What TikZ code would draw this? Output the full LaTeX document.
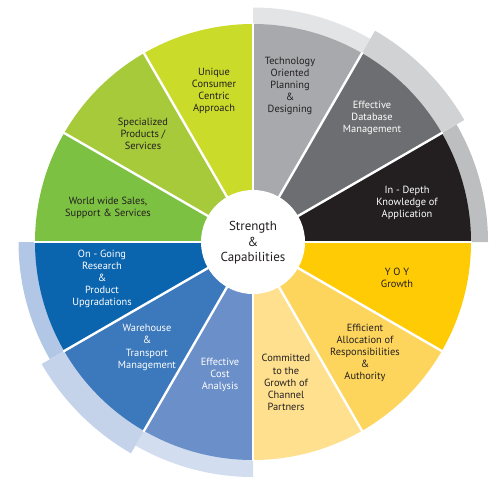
\documentclass[tikz,border=0pt]{standalone}
\usepackage{fontspec}
\setmainfont{PT Sans}
\definecolor{cTech}{HTML}{A7A9AC}
\definecolor{cData}{HTML}{6D6E71}
\definecolor{cDepth}{HTML}{231F20}
\definecolor{cYoy}{HTML}{FFCB05}
\definecolor{cEff}{HTML}{FED55C}
\definecolor{cComm}{HTML}{FFE08F}
\definecolor{cCost}{HTML}{6B8FC9}
\definecolor{cWare}{HTML}{3B78BC}
\definecolor{cOngo}{HTML}{0A64AE}
\definecolor{cWorld}{HTML}{7CC142}
\definecolor{cSpec}{HTML}{A6CA3A}
\definecolor{cUniq}{HTML}{CBDB2A}
\definecolor{bTech}{HTML}{E3E4E5}
\definecolor{bData}{HTML}{D1D2D4}
\definecolor{bDepth}{HTML}{BCBEC0}
\definecolor{bOngo}{HTML}{B2C7E5}
\definecolor{bWare}{HTML}{C4D2EA}
\definecolor{bCost}{HTML}{D2DDEF}
\definecolor{txtDark}{HTML}{231F20}
\newcommand\wsec[3]{\fill[#1] (C) -- ++(#2:218) arc[start angle=#2, end angle=#3, radius=218] -- cycle;}
\newcommand\wband[5]{\fill[#1] ([shift={(#2:#4)}]C) arc[start angle=#2, end angle=#3, radius=#4] -- ([shift={(#3:#5)}]C) arc[start angle=#3, end angle=#2, radius=#5] -- cycle;}
\begin{document}
\begin{tikzpicture}[x=1pt,y=1pt,
  lbl/.style={align=center, inner sep=0pt, font=\fontsize{10.4}{12.1}\selectfont, text=txtDark},
  lblw/.style={lbl, text=white},
  sep/.style={white, line width=2.4pt}]
\useasboundingbox (0,0) rectangle (500,-483);
\coordinate (C) at (253,-242);
% outer bands
\wband{bTech}{60}{90}{217}{234.5}
\wband{bDepth}{0}{30}{217}{235}
\wband{bData}{30}{60}{217}{244}
\wband{bOngo}{180}{210}{217}{234.5}
\wband{bCost}{240}{270}{217}{235}
\wband{bWare}{210}{240}{217}{244}
% wedges
\wsec{cTech}{60}{90}
\wsec{cData}{30}{60}
\wsec{cDepth}{0}{30}
\wsec{cYoy}{-30}{0}
\wsec{cEff}{-60}{-30}
\wsec{cComm}{-90}{-60}
\wsec{cCost}{-120}{-90}
\wsec{cWare}{-150}{-120}
\wsec{cOngo}{-180}{-150}
\wsec{cWorld}{150}{180}
\wsec{cSpec}{120}{150}
\wsec{cUniq}{90}{120}
% separators
\foreach \a in {0,30,...,330} \draw[sep] (C) -- ++(\a:219);
% centre
\fill[white] (C) circle[radius=52];
\node[align=center, inner sep=0pt, font=\fontsize{13}{15.5}\selectfont, text=txtDark] (ctr) at (253,-243) {Strength\\\&\\Capabilities};
% labels
\node[lbl]  (tech)  at (290,-86)  {Technology\\Oriented\\Planning\\\&\\Designing};
\node[lblw] (data)  at (372,-118) {Effective\\Database\\Management};
\node[lblw] (depth) at (407,-202.5) {In - Depth\\Knowledge of\\Application};
\node[lbl]  (yoy)   at (397,-277.5) {Y O Y\\Growth};
\node[lbl]  (eff)   at (365,-353) {Efficient\\Allocation of\\Responsibilities\\\&\\Authority};
\node[lbl]  (comm)  at (286,-382.5) {Committed\\to the\\Growth of\\Channel\\Partners};
\node[lblw] (cost)  at (220,-375) {Effective\\Cost\\Analysis};
\node[lblw] (ware)  at (147,-347.5) {Warehouse\\\&\\Transport\\Management};
\node[lblw] (ongo)  at (102,-279) {On - Going\\Research\\\&\\Product\\Upgradations};
\node[lbl]  (world) at (108,-208) {World wide Sales,\\Support \& Services};
\node[lbl]  (spec)  at (143,-134) {Specialized\\Products /\\Services};
\node[lbl]  (uniq)  at (214,-91)  {Unique\\Consumer\\Centric\\Approach};
\end{tikzpicture}
\end{document}
